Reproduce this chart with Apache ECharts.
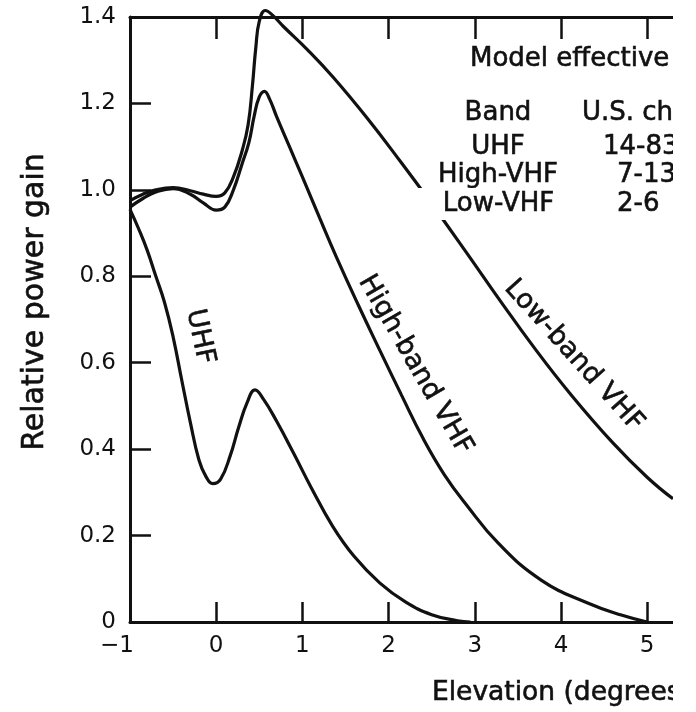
<!DOCTYPE html>
<html><head><meta charset="utf-8">
<script src="https://cdn.jsdelivr.net/npm/echarts@6/dist/echarts.min.js"></script>
<style>html,body{margin:0;padding:0;background:#fff}#c{width:696px;height:712px}</style>
</head><body><div id="c"></div>
<script>
// ---- data ----
const xTicks = [-1, 0, 1, 2, 3, 4, 5];
const yTicks = [0, 0.2, 0.4, 0.6, 0.8, 1.0, 1.2, 1.4];

const uhfX = [-1.00, -0.90, -0.80, -0.70, -0.60, -0.50, -0.40, -0.30, -0.20, -0.12, -0.04, 0.05, 0.163, 0.26, 0.36, 0.45, 0.55, 0.70, 0.90, 1.10, 1.35, 1.60, 1.90, 2.20, 2.50, 2.80, 2.95];
const uhfY = [0.955, 0.91, 0.86, 0.80, 0.74, 0.66, 0.56, 0.462, 0.375, 0.337, 0.32, 0.33, 0.385, 0.45, 0.508, 0.537, 0.515, 0.465, 0.39, 0.312, 0.222, 0.152, 0.09, 0.046, 0.017, 0.003, 0.0];

const highX = [-1.00, -0.85, -0.70, -0.50, -0.30, -0.15, 0.00, 0.10, 0.20, 0.30, 0.38, 0.44, 0.50, 0.56, 0.62, 0.70, 0.85, 1.00, 1.20, 1.40, 1.65, 1.90, 2.15, 2.40, 2.65, 2.90, 3.27, 3.77, 4.31, 4.70, 5.00];
const highY = [0.96, 0.98, 0.995, 1.003, 0.99, 0.97, 0.953, 0.96, 1.0, 1.06, 1.11, 1.17, 1.215, 1.228, 1.21, 1.17, 1.10, 1.03, 0.935, 0.842, 0.733, 0.628, 0.525, 0.425, 0.34, 0.272, 0.183, 0.097, 0.044, 0.016, 0.0];

const lowX = [-1.00, -0.85, -0.70, -0.50, -0.30, -0.15, 0.00, 0.10, 0.20, 0.30, 0.37, 0.42, 0.46, 0.50, 0.57, 0.65, 0.78, 1.06, 1.36, 1.76, 2.14, 2.50, 2.90, 3.30, 3.70, 4.10, 4.60, 5.00, 5.30];
const lowY = [0.975, 0.99, 1.0, 1.005, 0.998, 0.99, 0.985, 0.993, 1.03, 1.09, 1.15, 1.24, 1.33, 1.39, 1.415, 1.405, 1.378, 1.324, 1.26, 1.164, 1.065, 0.968, 0.856, 0.742, 0.632, 0.53, 0.415, 0.335, 0.285];

const curveNames = ['UHF', 'High-band VHF', 'Low-band VHF'];
const tableBands = ['UHF', 'High-VHF', 'Low-VHF'];
const tableChannels = ['14-83', '7-13', '2-6'];

// ---- drawing ----
const FONT = '"DejaVu Sans", "Liberation Sans", sans-serif';
const INK = '#111111';
const chart = echarts.init(document.getElementById('c'), null, {renderer: 'canvas'});
const pairs = (xs, ys) => xs.map((x, i) => [x, ys[i]]);
const lineSeries = (name, data) => ({
  name, type: 'line', data, xAxisIndex: 0, yAxisIndex: 0,
  showSymbol: false, smooth: 0.45, clip: false,
  lineStyle: {color: INK, width: 3.2}, silent: true, z: 3
});

const axisLine = {show: true, onZero: false, lineStyle: {color: INK, width: 3}};
const tickStyle = {color: INK, width: 2.5};

chart.setOption({
  animation: false,
  backgroundColor: '#ffffff',
  grid: {left: 130, right: 23, top: 17, bottom: 90, containLabel: false},
  xAxis: [{
    type: 'value', min: -1, max: 5.3, interval: 1, position: 'bottom',
    axisLine,
    axisTick: {show: true, inside: true, length: 20, lineStyle: tickStyle, customValues: xTicks},
    axisLabel: {
      customValues: xTicks, margin: 13, color: INK, fontFamily: FONT, fontSize: 23,
      formatter: v => v < 0 ? '{m|\u2212' + Math.abs(v) + '}' : String(v),
      rich: {m: {padding: [0, 26, 0, 0], color: INK, fontFamily: FONT, fontSize: 23}}
    },
    splitLine: {show: false}
  }, {
    type: 'value', min: -1, max: 5.3, interval: 1, position: 'top',
    axisLine,
    axisTick: {show: true, inside: true, length: 22, lineStyle: tickStyle, customValues: xTicks},
    axisLabel: {show: false},
    splitLine: {show: false}
  }],
  yAxis: {
    type: 'value', min: 0, max: 1.4, interval: 0.2,
    axisLine,
    axisTick: {show: true, inside: true, length: 21, lineStyle: tickStyle, customValues: yTicks},
    axisLabel: {
      customValues: yTicks, margin: 14, color: INK, fontFamily: FONT, fontSize: 23,
      formatter: v => v === 0 ? '0' : v.toFixed(1)
    },
    splitLine: {show: false}
  },
  series: [
    lineSeries(curveNames[0], pairs(uhfX, uhfY)),
    lineSeries(curveNames[1], pairs(highX, highY)),
    lineSeries(curveNames[2], pairs(lowX, lowY))
  ]
});

// curve labels placed in data coordinates
const labelAt = [[-0.19, 0.66], [2.31, 0.595], [4.15, 0.616]];
const labelRot = [-78, -60, -48];
const txt = (text, x, y, opts = {}) => ({
  type: 'text', x, y, z: 50, rotation: opts.rot || 0, silent: true,
  style: Object.assign({
    text, fill: INK, stroke: INK, lineWidth: 0.6, fontFamily: FONT, fontSize: opts.size || 26,
    align: opts.align || 'left', verticalAlign: 'middle'
  }, opts.style || {})
});
const g = [];
curveNames.forEach((n, i) => {
  const p = chart.convertToPixel({gridIndex: 0}, labelAt[i]);
  g.push(txt(n, p[0], p[1], {rot: labelRot[i] * Math.PI / 180, align: 'center', size: 27}));
});
// table
g.push(txt('Model effective', 470, 59));
g.push(txt('Band', 498, 113, {align: 'center'}));
g.push(txt('U.S. channels', 582, 113));
const rowY = [147, 175, 204];
const chanX = [603, 617, 617];
tableBands.forEach((b, i) => {
  if (i === 2) {
    g.push(txt(b, 486.5, rowY[i], {align: 'center', style: {backgroundColor: '#ffffff', padding: [3, 2, 3, 26]}}));
  } else {
    g.push(txt(b, 498, rowY[i], {align: 'center'}));
  }
  g.push(txt(tableChannels[i], chanX[i], rowY[i]));
});
// axis titles
g.push(txt('Relative power gain', 35, 302, {rot: Math.PI / 2, align: 'center', size: 30}));
g.push(txt('Elevation (degrees)', 432, 693, {size: 26.5}));
// right edge of the scanned figure (cropped)
g.push({type: 'rect', shape: {x: 673, y: 0, width: 30, height: 712}, style: {fill: '#ffffff'}, z: 100, silent: true});
chart.setOption({graphic: g});
</script>
</body></html>
